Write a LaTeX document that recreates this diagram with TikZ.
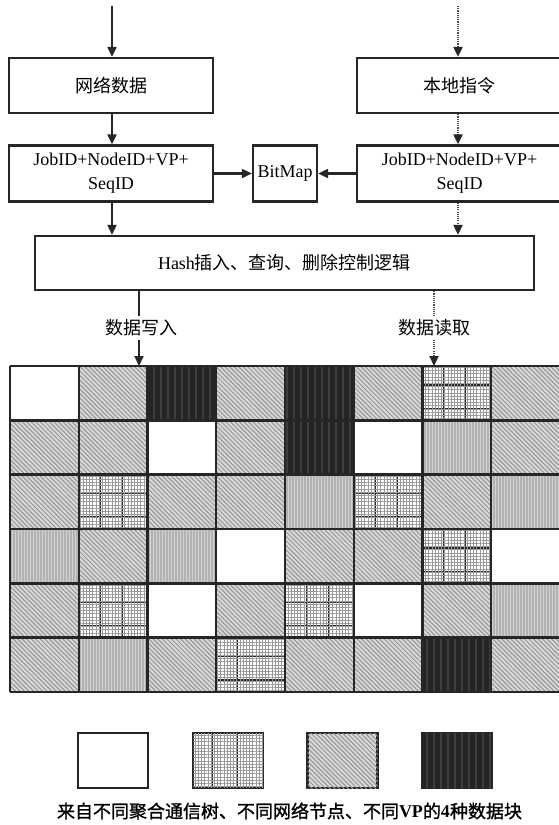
\documentclass[tikz,border=0pt]{standalone}
\usepackage{fontspec}
\setmainfont{Liberation Serif}
\newfontfamily\zh{Noto Sans CJK SC}
\newfontfamily\zhb[FakeBold=1.2]{Noto Sans CJK SC}
\usetikzlibrary{arrows.meta,patterns,patterns.meta}
\tikzset{
  box/.style={draw=black!85, line width=2.4pt, fill=white, inner sep=0pt,
    font=\fontsize{18}{24}\selectfont, align=center},
  lbl/.style={fill=white, inner sep=3pt, font=\fontsize{18}{20}\selectfont},
  seg/.style={line width=2.2pt, draw=black!85},
  segd/.style={line width=2.2pt, draw=gray!60!black, dash pattern=on 1.1pt off 1.1pt},
  flow/.style={seg, -{Triangle[length=10pt,width=9pt]}},
  flowd/.style={segd, -{Triangle[length=10pt,width=9pt,color=black!85]}},
  gridl/.style={line width=2.4pt, draw=black!85, line cap=square},
  cellw/.style={fill=white},
  celld/.style={fill=gray!30,
    postaction={pattern={Lines[angle=-45,distance=3.2pt,line width=1pt]}, pattern color=gray!85}},
  cellk/.style={fill=black!86,
    postaction={pattern={Lines[angle=90,distance=7pt,line width=1.6pt]}, pattern color=black!76}},
  cellv/.style={fill=gray!60,
    postaction={pattern={Lines[angle=90,distance=3pt,line width=0.9pt]}, pattern color=gray!35}},
  cellg/.style={fill=white,
    path picture={
      \foreach \f in {0.31,0.63}{\draw[black!85,line width=1.3pt]
        ([xshift=\f*68.75pt]path picture bounding box.north west) --
        ([xshift=\f*68.75pt]path picture bounding box.south west);}
      \foreach \f in {0.35,0.78}{\draw[black!85,line width=1.3pt]
        ([yshift=-\f*54.33pt]path picture bounding box.north west) --
        ([yshift=-\f*54.33pt]path picture bounding box.north east);}},
    postaction={pattern={Lines[angle=0,distance=3.2pt,line width=0.7pt]}, pattern color=gray!80},
    postaction={pattern={Lines[angle=90,distance=3.2pt,line width=0.7pt]}, pattern color=gray!80}},
  legbox/.style={draw=black!85, line width=2.4pt, minimum width=70pt, minimum height=55pt, inner sep=0pt},
  legg/.style={fill=white,
    path picture={
      \foreach \f in {0.28,0.63}{\draw[black!85,line width=1.3pt]
        ([xshift=\f*70pt]path picture bounding box.north west) --
        ([xshift=\f*70pt]path picture bounding box.south west);}},
    postaction={pattern={Lines[angle=0,distance=3.2pt,line width=0.7pt]}, pattern color=gray!80},
    postaction={pattern={Lines[angle=90,distance=3.2pt,line width=0.7pt]}, pattern color=gray!80}},
}
\begin{document}
\begin{tikzpicture}[x=1pt,y=-1pt]
\fill[white] (0,0) rectangle (558,825);
\useasboundingbox (0,0) rectangle (558,825);

% ---- grid of data blocks ----
\foreach \rowlist [count=\r] in {{w,d,k,d,k,d,g,d},{d,d,w,d,k,w,v,d},{d,g,d,d,v,g,d,v},{v,d,v,w,d,d,g,w},{d,g,w,d,g,w,d,v},{d,v,d,g,d,d,k,d}}{
  \foreach \t [count=\c] in \rowlist {
    \pgfmathsetmacro\xa{10+(\c-1)*68.75}
    \pgfmathsetmacro\ya{366+(\r-1)*54.333}
    \edef\doit{\noexpand\path[cell\t] (\xa,\ya) rectangle ++(68.75,54.333);}
    \doit
  }
}
\foreach \i in {0,...,8} \draw[gridl] (10+\i*68.75,366) -- (10+\i*68.75,692);
\foreach \j in {0,...,6} \draw[gridl] (10,366+\j*54.333) -- (562,366+\j*54.333);

% ---- boxes ----
\node[box, minimum width=204pt, minimum height=55pt] (net) at (111,85.5) {\zh 网络数据};
\node[box, minimum width=205pt, minimum height=55pt] (loc) at (459.5,85.5) {\zh 本地指令};
\node[box, minimum width=204pt, minimum height=56pt] (id1) at (111,173.5) {JobID+NodeID+VP+\\SeqID};
\node[box, minimum width=64pt, minimum height=56pt] (bm) at (285,173.5) {BitMap};
\node[box, minimum width=205pt, minimum height=56pt] (id2) at (459.5,173.5) {JobID+NodeID+VP+\\SeqID};
\node[box, minimum width=499pt, minimum height=54pt] (hash) at (284.5,263) {Hash{\zh 插入、查询、删除控制逻辑}};

% ---- connectors ----
\coordinate (sL) at (112,6);
\coordinate (sR) at (458,6);
\draw[flow] (sL) -- (sL |- net.north);
\draw[flowd] (sR) -- (sR |- loc.north);
\draw[flow] (sL |- net.south) -- (sL |- id1.north);
\draw[flowd] (sR |- loc.south) -- (sR |- id2.north);
\draw[flow] (id1) -- (bm);
\draw[flow] (id2) -- (bm);
\draw[flow] (sL |- id1.south) -- (sL |- hash.north);
\draw[flowd] (sR |- id2.south) -- (sR |- hash.north);

\coordinate (gW) at (139,366);
\coordinate (gR) at (434,366);
\node[lbl] (lw) at (141,328) {\zh 数据写入};
\node[lbl] (lr) at (434,328) {\zh 数据读取};
\draw[seg] (gW |- hash.south) -- (gW |- lw.north);
\draw[flow] (gW |- lw.south) -- (gW);
\draw[segd] (gR |- hash.south) -- (gR |- lr.north);
\draw[flowd] (gR |- lr.south) -- (gR);

% ---- legend ----
\node[legbox, cellw] (l1) at (113,760.5) {};
\node[legbox, legg] (l2) at (228,760.5) {};
\node[legbox, celld] (l3) at (342.5,760.5) {};
\node[legbox, cellk] (l4) at (457,760.5) {};
\node[font=\fontsize{18}{20}\selectfont, inner sep=0pt] (cap) at (289.5,811)
  {{\zhb 来自不同聚合通信树、不同网络节点、不同}\textbf{VP}{\zhb 的}\textbf{4}{\zhb 种数据块}};
\end{tikzpicture}
\end{document}
